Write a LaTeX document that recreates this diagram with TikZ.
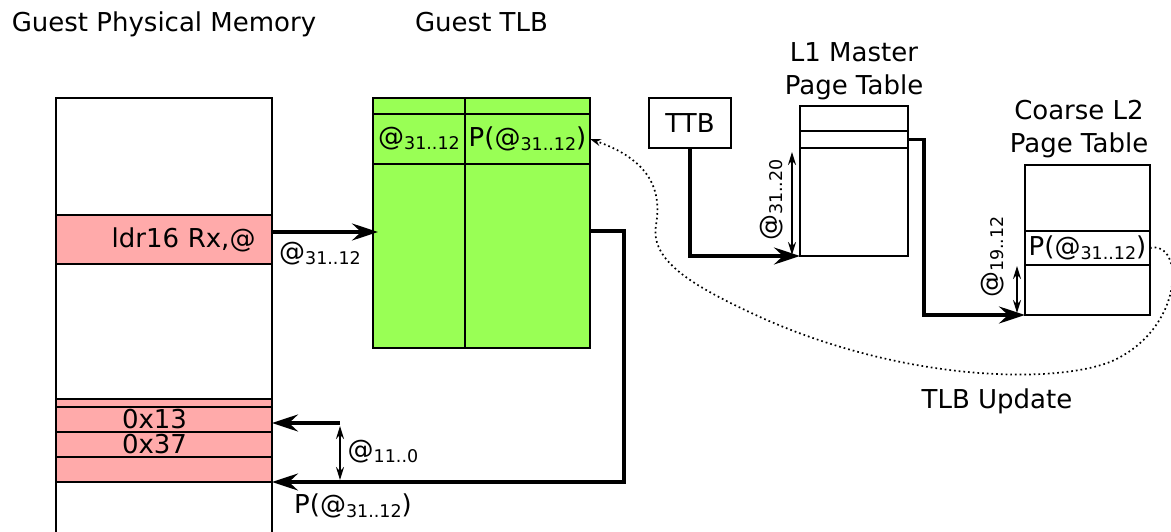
\documentclass[tikz,border=0pt]{standalone}
\usepackage{fontspec}
\setmainfont{DejaVu Sans}
\usepackage{tikz}
\usetikzlibrary{positioning}
\usetikzlibrary{arrows.meta, calc}
\definecolor{tlbgreen}{HTML}{99FF55}
\definecolor{mempink}{HTML}{FFAAAA}
\newcommand{\bits}[1]{\raisebox{-4pt}{\fontsize{17.5}{17.5}\selectfont #1}}
\tikzstyle{box} = [draw, line width=1.8pt, inner sep=0pt, outer sep=0pt]
\tikzstyle{memrow} = [box, fill=mempink, minimum width=216pt]
\tikzstyle{bigarrow} = [line width=3.4pt, -{Stealth[length=26pt,width=17pt,inset=9pt]}]
\tikzstyle{bitsarrow} = [line width=2pt, {Stealth[length=13pt,width=8pt]}-{Stealth[length=13pt,width=8pt]}]
\tikzstyle{update} = [line width=1.7pt, dash pattern=on 1.7pt off 3pt, -{Stealth[length=11pt,width=7pt]}]

\begin{document}
\begin{tikzpicture}[x=1pt, y=-1pt, font=\fontsize{26}{33}\selectfont]
\useasboundingbox (0,0) rectangle (1171,532);
\node[anchor=base] (memtitle) at (164,32) {Guest Physical Memory};
\node[anchor=base] (tlbtitle) at (481.5,32) {Guest TLB};
\node[anchor=south, align=center, inner sep=0pt] (l1title) at (854,100) {L1 Master\\Page Table};
\node[anchor=south, align=center, inner sep=0pt] (l2title) at (1079,158) {Coarse L2\\Page Table};
\node[box, minimum width=216pt, minimum height=442pt] (mem) at (164,319) {};
\node[memrow, minimum height=49pt, text width=183pt, align=right] (ldr) at (164,239.5) {ldr16 Rx,@};
\node[memrow, minimum height=8pt] (r0) at (164,403) {};
\node[memrow, minimum height=25pt, text width=84pt, align=left, below=0pt of r0] (r1) {0x13};
\node[memrow, minimum height=25pt, text width=84pt, align=left, below=0pt of r1] (r2) {0x37};
\node[memrow, minimum height=25pt, below=0pt of r2] (r3) {};
\node[box, fill=tlbgreen, minimum width=217pt, minimum height=250pt] (tlb) at (481.5,223) {};
\node[box, minimum width=92pt, minimum height=50pt] (tlbva) at (419,139) {@\bits{31..12}};
\node[box, minimum width=125pt, minimum height=50pt, right=0pt of tlbva] (tlbpa) {P(@\bits{31..12})};
\draw[line width=1.8pt] (tlbva.north east) -- (tlbva.north east |- tlb.north);
\draw[line width=1.8pt] (tlbva.south east) -- (tlbva.south east |- tlb.south);
\node[box, minimum width=82pt, minimum height=50pt] (ttb) at (690,123) {TTB};
\node[box, minimum width=108pt, minimum height=150pt] (l1) at (854,181) {};
\node[box, minimum width=108pt, minimum height=17pt] (l1entry) at (854,139.5) {};
\node[box, minimum width=125pt, minimum height=150pt] (l2) at (1087.5,240) {};
\node[box, minimum width=125pt, minimum height=34pt] (l2entry) at (1087.5,248) {P(@\bits{31..12})};
\coordinate (pturn) at (624,482);
\coordinate (offs) at (340,423);
\draw[bigarrow, shorten >=-5pt] ([yshift=7.5pt]ldr.east) -- ([yshift=7.5pt]ldr.east -| tlb.west);
\node[anchor=base] (vaddr) at (320,260) {@\bits{31..12}};
\draw[bigarrow] ([yshift=-8pt]tlb.east) -| (pturn) -- (r3.south east);
\node[anchor=base] (paddr) at (353,513) {P(@\bits{31..12})};
\draw[bigarrow] (offs) -- (offs -| r1.east);
\draw[bitsarrow, shorten <=3pt, shorten >=2pt] (offs) -- (offs |- pturn);
\node[anchor=base] (offset) at (383,458) {@\bits{11..0}};
\draw[bigarrow] (ttb.south) |- (l1.south west);
\draw[bitsarrow, shorten <=1pt, shorten >=4pt] ([xshift=-8pt]l1.south west) -- ([xshift=-8pt]l1entry.south west);
\node[rotate=90] (l1idx) at (772,200) {@\bits{31..20}};
\draw[bigarrow] (l1entry.east) -- ++(16,0) |- (l2.south west);
\draw[bitsarrow, shorten <=2pt, shorten >=1pt] ([xshift=-8pt]l2.south west) -- ([xshift=-8pt]l2entry.south west);
\node[rotate=90] (l2idx) at (993,257) {@\bits{19..12}};
\draw[update] (l2entry.east) .. controls (1185,240) and (1185,330) .. (1110,362) .. controls (1050,385) and (900,380) .. (760,317) .. controls (690,285) and (650,260) .. (656,225) .. controls (662,190) and (650,160) .. (tlbpa.east);
\node[anchor=base] (tlbupd) at (997,408) {TLB Update};
\end{tikzpicture}
\end{document}
